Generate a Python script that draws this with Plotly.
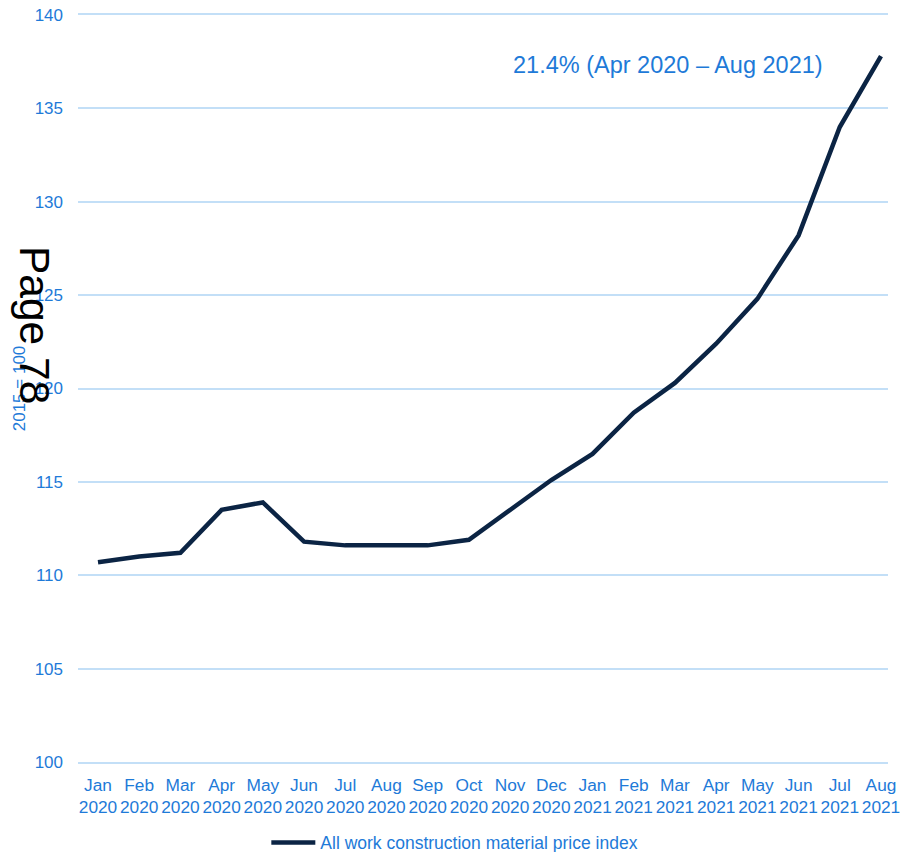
import plotly.graph_objects as go

months = ["Jan", "Feb", "Mar", "Apr", "May", "Jun", "Jul", "Aug", "Sep", "Oct",
          "Nov", "Dec", "Jan", "Feb", "Mar", "Apr", "May", "Jun", "Jul", "Aug"]
years = ["2020"] * 12 + ["2021"] * 8
index_values = [110.7, 111.0, 111.2, 113.5, 113.9, 111.8, 111.6, 111.6, 111.6, 111.9,
                113.5, 115.1, 116.5, 118.7, 120.3, 122.4, 124.8, 128.2, 134.0, 137.8]
series_name = "All work construction material price index"

labels = [f"{m}<br>{y}" for m, y in zip(months, years)]

blue = "#1e7ad8"
navy = "#0b2444"
grid = "#c3dff7"

fig = go.Figure()
fig.add_trace(
    go.Scatter(
        x=labels,
        y=index_values,
        mode="lines",
        name=series_name,
        line=dict(color=navy, width=4.5),
    )
)

fig.update_layout(
    width=901,
    height=852,
    template="plotly_white",
    paper_bgcolor="white",
    plot_bgcolor="white",
    font=dict(family="Liberation Sans, Arial, sans-serif", color=blue, size=17),
    margin=dict(l=78, r=13, t=15, b=90, autoexpand=False),
    showlegend=True,
    legend=dict(
        orientation="h",
        x=0.2325,
        xanchor="left",
        y=-0.108,
        yanchor="middle",
        itemwidth=44,
        font=dict(size=17.5, color=blue),
    ),
    xaxis=dict(
        # the last month sits close to the right edge, as in the source
        range=[-0.485, len(labels) - 0.83],
        automargin=False,
        showgrid=False,
        showline=True,
        mirror=True,
        linecolor=grid,
        linewidth=1.5,
        zeroline=False,
        ticks="",
        tickfont=dict(size=17.3, color=blue),
        tickangle=0,
        ticklabelstandoff=6,
    ),
    yaxis=dict(
        range=[100, 140],
        dtick=5,
        automargin=False,
        gridcolor=grid,
        gridwidth=1.5,
        zeroline=False,
        showline=False,
        tickfont=dict(size=17, color=blue),
        ticklabelstandoff=14,
        title=dict(text="2015 = 100", font=dict(size=17, color=blue), standoff=4),
    ),
)

fig.add_annotation(
    text="21.4% (Apr 2020 \u2013 Aug 2021)",
    xref="paper", yref="paper",
    x=0.535, y=0.933,
    xanchor="left", yanchor="middle",
    showarrow=False,
    font=dict(size=23.5, color=blue),
)

fig.add_annotation(
    text="Page 78",
    xref="paper", yref="paper",
    x=-0.053, y=0.585,
    xanchor="center", yanchor="middle",
    textangle=90,
    showarrow=False,
    font=dict(size=42.5, color="black"),
)

# page body has a default 8px margin; drop it so the figure sits at 0,0
fig.write_html(
    "out.html",
    config={"displayModeBar": False},
    post_script="document.body.style.margin='0';",
)
